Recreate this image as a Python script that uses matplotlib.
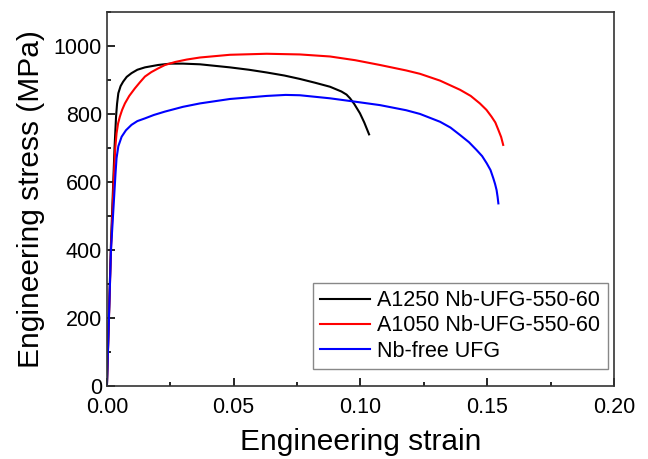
import numpy as np
from matplotlib import pyplot as plt
from matplotlib.ticker import MultipleLocator

plt.rcParams['font.family'] = ['Liberation Sans', 'DejaVu Sans']

# A1250 Nb-UFG-550-60
strain_a1250 = [0, 0.0016, 0.003, 0.0036, 0.004, 0.0045, 0.0054, 0.0064, 0.0078, 0.0097,
                0.012, 0.015, 0.0202, 0.025, 0.030, 0.0367, 0.0485, 0.056, 0.063, 0.070,
                0.0761, 0.082, 0.088, 0.0925, 0.0945, 0.0959, 0.0975, 0.0998, 0.1015, 0.1034]
stress_a1250 = [0, 420, 700, 792, 830, 861, 882, 895, 909, 920,
                930, 937, 944, 948, 948, 946, 937, 930, 922, 913,
                903, 892, 880, 866, 857, 846, 830, 802, 775, 740]

# A1050 Nb-UFG-550-60
strain_a1050 = [0, 0.0016, 0.0028, 0.0033, 0.0038, 0.0044, 0.0051, 0.006, 0.0071, 0.0088,
                0.011, 0.013, 0.015, 0.0175, 0.0202, 0.0229, 0.027, 0.0315, 0.0367, 0.0485,
                0.063, 0.0761, 0.088, 0.098, 0.1077, 0.118, 0.1235, 0.1314, 0.1393, 0.1435,
                0.1471, 0.1497, 0.1517, 0.1532, 0.1544, 0.1555, 0.1563]
stress_a1050 = [0, 400, 626, 700, 743, 772, 792, 812, 831, 853,
                875, 893, 910, 923, 934, 944, 953, 960, 966, 974,
                977, 975, 969, 958, 944, 928, 918, 898, 871, 853,
                831, 812, 792, 775, 753, 732, 709]

# Nb-free UFG
strain_nbfree = [0, 0.0016, 0.0034, 0.0038, 0.0045, 0.0058, 0.0075, 0.0097, 0.012, 0.015,
                 0.0185, 0.0229, 0.030, 0.0367, 0.0485, 0.063, 0.0705, 0.0761, 0.088, 0.098,
                 0.1077, 0.118, 0.1235, 0.1314, 0.1355, 0.1393, 0.1428, 0.1458, 0.148, 0.1498,
                 0.1513, 0.1524, 0.1531, 0.1537, 0.1541, 0.1544]
stress_nbfree = [0, 400, 626, 670, 705, 733, 752, 768, 779, 787,
                 797, 807, 821, 831, 844, 853, 856, 855, 846, 836,
                 826, 811, 800, 777, 760, 738, 717, 694, 676, 655,
                 635, 611, 594, 576, 556, 537]

fig = plt.figure(figsize=(6.48, 4.59), dpi=100)
ax = fig.add_axes([0.165, 0.159, 0.7825, 0.815])

ax.plot(strain_a1250, stress_a1250, color='black', lw=1.5, label='A1250 Nb-UFG-550-60')
ax.plot(strain_a1050, stress_a1050, color='red', lw=1.5, label='A1050 Nb-UFG-550-60')
ax.plot(strain_nbfree, stress_nbfree, color='blue', lw=1.5, label='Nb-free UFG')

ax.set_xlim(0, 0.20)
ax.set_ylim(0, 1100)
ax.xaxis.set_major_locator(MultipleLocator(0.05))
ax.xaxis.set_minor_locator(MultipleLocator(0.025))
ax.yaxis.set_major_locator(MultipleLocator(200))
ax.yaxis.set_minor_locator(MultipleLocator(100))
ax.xaxis.set_major_formatter(plt.FormatStrFormatter('%.2f'))
ax.tick_params(which='both', direction='in', top=False, right=False, labelsize=15.5)
ax.tick_params(which='major', length=6, width=1.2)
ax.tick_params(which='minor', length=3, width=1.2)
ax.tick_params(axis='x', pad=8)
for s in ax.spines.values():
    s.set_linewidth(1.2)
    s.set_color('#333333')

ax.set_xlabel('Engineering strain', fontsize=21.5, labelpad=7)
ax.set_ylabel('Engineering stress (MPa)', fontsize=21.5, labelpad=6)

leg = ax.legend(loc='lower right', bbox_to_anchor=(0.988, 0.045), fontsize=15.5,
                frameon=True, fancybox=False, edgecolor='#888888', framealpha=1,
                borderpad=0.35, labelspacing=0.2, handlelength=2.3, handletextpad=0.35,
                borderaxespad=0)
leg.get_frame().set_linewidth(1.0)

fig.savefig('out.png', dpi=100)
